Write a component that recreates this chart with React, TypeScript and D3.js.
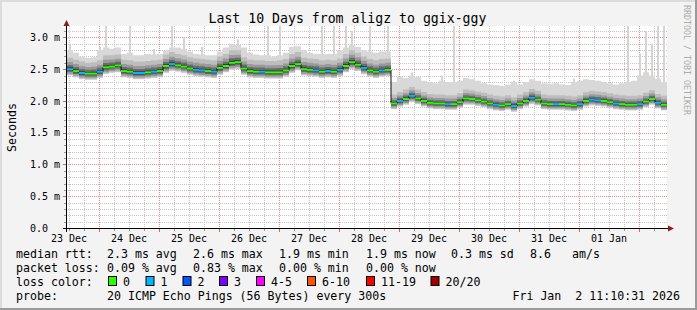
import React from "react";
import * as d3 from "d3";

// ---------- data ----------
const END_MS = Date.UTC(2026, 0, 2, 11, 10, 31);
const START_MS = END_MS - 10 * 86400000;
const STEP_MS = 2.4 * 3600 * 1000;

// median rtt (ms), one value per 2.4 h
const median = [
  2.50, 2.47, 2.44, 2.43, 2.43, 2.46, 2.53, 2.54, 2.56, 2.47,
  2.46, 2.44, 2.44, 2.45, 2.46, 2.47, 2.55, 2.58, 2.56, 2.54,
  2.51, 2.49, 2.48, 2.47, 2.46, 2.52, 2.55, 2.60, 2.61, 2.51,
  2.47, 2.46, 2.46, 2.45, 2.45, 2.45, 2.48, 2.55, 2.58, 2.50,
  2.49, 2.48, 2.46, 2.47, 2.46, 2.49, 2.55, 2.61, 2.57, 2.52,
  2.48, 2.46, 2.48, 2.49, 1.96, 2.00, 2.03, 2.08, 2.04, 2.00,
  1.97, 1.96, 1.96, 1.95, 1.95, 1.98, 2.04, 2.03, 2.01, 1.99,
  1.96, 1.94, 1.93, 1.95, 1.92, 1.96, 2.00, 2.05, 2.02, 1.96,
  1.95, 1.95, 1.95, 1.94, 1.93, 1.95, 2.00, 2.02, 2.01, 2.00,
  1.98, 1.96, 1.95, 1.94, 1.94, 1.95, 1.99, 2.03, 1.97, 1.94,
];

// lowest ping (ms)
const minRtt = [
  2.40, 2.37, 2.34, 2.33, 2.33, 2.36, 2.42, 2.44, 2.45, 2.37,
  2.36, 2.34, 2.34, 2.35, 2.36, 2.37, 2.44, 2.47, 2.46, 2.44,
  2.41, 2.39, 2.38, 2.37, 2.36, 2.41, 2.45, 2.49, 2.50, 2.41,
  2.37, 2.36, 2.36, 2.35, 2.35, 2.35, 2.38, 2.44, 2.48, 2.40,
  2.39, 2.38, 2.36, 2.37, 2.36, 2.39, 2.45, 2.50, 2.47, 2.42,
  2.38, 2.36, 2.38, 2.39, 1.87, 1.91, 1.94, 1.98, 1.95, 1.91,
  1.88, 1.87, 1.87, 1.86, 1.86, 1.89, 1.94, 1.94, 1.92, 1.90,
  1.87, 1.85, 1.84, 1.86, 1.83, 1.87, 1.91, 1.95, 1.93, 1.87,
  1.86, 1.86, 1.86, 1.85, 1.84, 1.86, 1.91, 1.93, 1.92, 1.91,
  1.89, 1.87, 1.86, 1.85, 1.85, 1.86, 1.90, 1.94, 1.88, 1.85,
];

// upper edge of the dense smoke (ms)
const highRtt = [
  2.68, 2.65, 2.62, 2.60, 2.61, 2.64, 2.72, 2.72, 2.73, 2.65,
  2.64, 2.62, 2.62, 2.63, 2.64, 2.65, 2.73, 2.77, 2.74, 2.72,
  2.69, 2.67, 2.66, 2.65, 2.64, 2.70, 2.74, 2.80, 2.80, 2.69,
  2.65, 2.64, 2.64, 2.63, 2.63, 2.64, 2.66, 2.74, 2.77, 2.68,
  2.67, 2.66, 2.64, 2.65, 2.64, 2.67, 2.74, 2.80, 2.76, 2.70,
  2.66, 2.64, 2.66, 2.67, 2.10, 2.14, 2.18, 2.22, 2.18, 2.14,
  2.11, 2.10, 2.10, 2.09, 2.09, 2.12, 2.18, 2.17, 2.15, 2.13,
  2.10, 2.08, 2.07, 2.09, 2.06, 2.10, 2.14, 2.19, 2.16, 2.10,
  2.09, 2.09, 2.09, 2.08, 2.07, 2.09, 2.14, 2.16, 2.15, 2.14,
  2.12, 2.10, 2.09, 2.08, 2.08, 2.09, 2.13, 2.17, 2.11, 2.08,
];

// upper edge of the faint smoke (ms)
const upperRtt = [
  2.80, 2.76, 2.70, 2.68, 2.69, 2.80, 2.84, 2.82, 2.84, 2.74,
  2.76, 2.72, 2.72, 2.74, 2.73, 2.74, 2.80, 2.84, 2.84, 2.82,
  2.78, 2.74, 2.73, 2.72, 2.72, 2.78, 2.84, 2.90, 2.88, 2.84,
  2.76, 2.73, 2.72, 2.72, 2.70, 2.72, 2.76, 2.85, 2.86, 2.80,
  2.76, 2.74, 2.74, 2.74, 2.74, 2.80, 2.84, 2.88, 2.85, 2.80,
  2.78, 2.76, 2.78, 2.78, 2.30, 2.38, 2.36, 2.40, 2.38, 2.32,
  2.30, 2.28, 2.32, 2.30, 2.30, 2.32, 2.36, 2.34, 2.32, 2.28,
  2.26, 2.25, 2.24, 2.26, 2.30, 2.26, 2.30, 2.34, 2.32, 2.28,
  2.27, 2.28, 2.26, 2.25, 2.30, 2.32, 2.34, 2.33, 2.32, 2.30,
  2.28, 2.26, 2.28, 2.30, 2.32, 2.40, 2.45, 2.40, 2.35, 2.30,
];

// single slow pings (ms), null where none stands out
const peakRtt: (number | null)[] = [
  2.90, null, null, null, null, 2.85, 3.20, null, null, null,
  3.20, null, null, null, 2.82, null, null, 3.20, null, 3.00,
  null, null, 2.85, null, null, null, null, null, 2.97, null,
  null, null, null, 3.20, null, 3.20, null, null, null, null,
  null, null, 3.20, null, 3.20, null, 3.20, 3.10, null, null,
  3.20, null, null, 3.20, null, null, null, 2.45, null, null,
  null, null, 2.40, null, 3.20, null, null, null, null, null,
  null, null, null, null, 2.32, null, null, null, null, null,
  null, null, null, null, 2.35, null, null, null, null, null,
  null, null, null, 3.20, null, 2.75, 3.10, 2.90, 3.20, 3.20,
];

// lost pings out of 20
const lostPings = [
  1, 0, 1, 0, 0, 1, 0, 0, 0, 0,
  0, 1, 1, 0, 1, 0, 0, 1, 0, 0,
  0, 1, 1, 0, 1, 0, 0, 0, 0, 0,
  0, 0, 1, 0, 0, 0, 0, 0, 0, 0,
  0, 1, 0, 1, 0, 1, 0, 0, 0, 1,
  0, 0, 1, 0, 0, 1, 0, 1, 0, 0,
  0, 0, 0, 1, 0, 0, 0, 0, 0, 0,
  0, 1, 0, 0, 1, 0, 0, 1, 0, 0,
  0, 1, 0, 0, 0, 1, 0, 1, 1, 0,
  0, 1, 0, 0, 0, 1, 0, 0, 1, 0,
];

const yMajorTicks = [0.5, 1.0, 1.5, 2.0, 2.5, 3.0];
const yTickLabels = ["0.0", "0.5 m", "1.0 m", "1.5 m", "2.0 m", "2.5 m", "3.0 m"];
const yTickValues = [0, 0.5, 1.0, 1.5, 2.0, 2.5, 3.0];
const dayLabels = ["23 Dec", "24 Dec", "25 Dec", "26 Dec", "27 Dec", "28 Dec", "29 Dec", "30 Dec", "31 Dec", "01 Jan"];
const lossBuckets = ["0", "1", "2", "3", "4-5", "6-10", "11-19", "20/20"];
const lossColors = ["#26ff00", "#00b8ff", "#0059ff", "#7e00ff", "#ff00ff", "#ff5500", "#ff0000", "#a10000"];

const legendRtt = [
  ["median rtt:", 16], ["2.3 ms avg", 107], ["2.6 ms max", 193], ["1.9 ms min", 279],
  ["1.9 ms now", 366], ["0.3 ms sd", 451], ["8.6", 530], ["am/s", 572],
] as [string, number][];
const legendLoss = [
  ["packet loss:", 16], ["0.09 % avg", 107], ["0.83 % max", 193], ["0.00 % min", 279], ["0.00 % now", 366],
] as [string, number][];
const legendBoxX = [108, 145.5, 182.5, 219, 256, 307, 366, 430.5];
const stampText = "Fri Jan\u00a0\u00a02 11:10:31 2026";

// ---------- layout ----------
const W = 697, H = 310;
const PL = 67, PR = 667, PT = 26, PB = 228;
const MONO = "DejaVu Sans Mono";
const GRID = "#c4c4c4";
const MGRID = "#f08c8c";

function bucketOf(n: number) {
  if (n <= 3) return n;
  if (n <= 5) return 4;
  if (n <= 10) return 5;
  if (n <= 19) return 6;
  return 7;
}

// dotted grid lines built from 1x1 pixel squares
function hDots(rows: number[], x0: number, x1: number) {
  let s = "";
  for (const r of rows) for (let xx = x0; xx < x1; xx += 2) s += `M${xx},${r}h1v1h-1z`;
  return s;
}
function vDots(cols: number[], y0: number, y1: number) {
  let s = "";
  for (const cc of cols) for (let yy = y0; yy < y1; yy += 2) s += `M${cc},${yy}h1v1h-1z`;
  return s;
}

export default function App() {
  const x = d3.scaleUtc().domain([new Date(START_MS), new Date(END_MS)]).range([PL, PR]);
  const y = d3.scaleLinear().domain([0, 3.18]).range([PB, PT]);
  const N = median.length;
  const tAt = (i: number) => new Date(START_MS + i * STEP_MS);
  const idx = d3.range(N + 1);
  const c = (i: number) => Math.min(i, N - 1);

  const band = (lo: (i: number) => number, hi: (i: number) => number) =>
    d3.area<number>()
      .x((i) => x(tAt(i)))
      .y0((i) => y(lo(c(i))))
      .y1((i) => y(hi(c(i))))
      .curve(d3.curveStepAfter)(idx) || "";

  const low = (f: number) => (i: number) => median[i] - f * (median[i] - minRtt[i]);
  const high = (f: number) => (i: number) => median[i] + f * (highRtt[i] - median[i]);

  const layers = [
    { d: band(low(1), (i) => upperRtt[i]), fill: "#d8d8d8" },
    { d: band(low(0.9), high(1)), fill: "#bdbdbd" },
    { d: band(low(0.7), high(0.62)), fill: "#9a9a9a" },
    { d: band(low(0.45), high(0.36)), fill: "#6c6c6c" },
    { d: band(low(0.22), high(0.16)), fill: "#383838" },
  ];

  const medianLine = d3.line<number>()
    .x((i) => x(tAt(i)))
    .y((i) => y(median[c(i)]))
    .curve(d3.curveStepAfter)(idx) || "";

  const minorY = d3.range(1, 32).map((k) => k / 10).filter((v) => Math.round(v * 10) % 5 !== 0);
  const hours = x.ticks(d3.utcHour.every(6) as any).filter((t) => t.getUTCHours() !== 0);
  const days = x.ticks(d3.utcDay.every(1) as any);
  const noons = d3.range(dayLabels.length).map((k) => new Date(Date.UTC(2025, 11, 23 + k, 12)));
  const px = (v: number) => Math.round(v) + 0.5;
  const pi = (v: number) => Math.round(v);

  const minorRows = minorY.map((v) => pi(y(v)));
  const minorCols = hours.map((t) => pi(x(t)));
  const majorRows = yMajorTicks.map((v) => pi(y(v)));
  const majorCols = days.map((t) => pi(x(t)));

  return (
    <svg width={W} height={H} style={{ position: "absolute", left: 0, top: 0, display: "block" }}
      xmlns="http://www.w3.org/2000/svg">
      <defs>
        <clipPath id="plot"><rect x={PL} y={PT} width={PR - PL} height={PB - PT} /></clipPath>
      </defs>
      <rect x={0} y={0} width={W} height={H} fill="#f3f3f3" />
      {/* 3D frame */}
      <rect x={0} y={0} width={W} height={2} fill="#dcdcdc" />
      <rect x={0} y={0} width={2} height={H} fill="#dcdcdc" />
      <rect x={0} y={H - 2} width={W} height={2} fill="#9a9a9a" />
      <rect x={W - 2} y={0} width={2} height={H} fill="#9a9a9a" />

      <rect x={PL} y={PT} width={PR - PL} height={PB - PT} fill="#ffffff" />

      {/* grid (dotted) */}
      <g shapeRendering="crispEdges">
        <path d={hDots(minorRows, PL + 1, PR) + vDots(minorCols, PT, PB)} fill={GRID} />
        <path d={hDots(majorRows, PL + 1, PR) + vDots(majorCols, PT, PB)} fill={MGRID} />
      </g>

      {/* smoke and median */}
      <g clipPath="url(#plot)">
        {peakRtt.map((p, i) =>
          p == null ? null : (
            <rect key={"pk" + i} x={Math.round(x(tAt(i + 0.5))) - 1} width={2}
              y={y(p)} height={Math.max(0, y(median[i]) - y(p))} fill="#d4d4d4" />
          )
        )}
        {layers.map((l, k) => <path key={"l" + k} d={l.d} fill={l.fill} />)}
        <path d={medianLine} fill="none" stroke="#111" strokeWidth={1} />
        {median.map((m, i) => (
          <line key={"seg" + i} x1={x(tAt(i))} x2={x(tAt(i + 1))} y1={y(m)} y2={y(m)}
            stroke={lossColors[bucketOf(lostPings[i])]} strokeWidth={2} />
        ))}
      </g>

      {/* ticks */}
      <g shapeRendering="crispEdges">
        {minorY.map((v) => (
          <line key={"ty" + v} x1={64} x2={67} y1={px(y(v))} y2={px(y(v))} stroke="#9a9a9a" />
        ))}
        {yMajorTicks.map((v) => (
          <line key={"tY" + v} x1={63} x2={67} y1={px(y(v))} y2={px(y(v))} stroke="#e06060" />
        ))}
        {hours.map((t) => (
          <line key={"tx" + +t} x1={px(x(t))} x2={px(x(t))} y1={228} y2={231} stroke="#9a9a9a" />
        ))}
        {days.map((t) => (
          <line key={"tX" + +t} x1={px(x(t))} x2={px(x(t))} y1={228} y2={232} stroke="#e06060" />
        ))}
        {/* axes */}
        <line x1={63} x2={669} y1={228.5} y2={228.5} stroke="#000" />
        <line x1={66.5} x2={66.5} y1={232} y2={25} stroke="#000" />
      </g>
      <polygon points="63.5,26 69.5,26 66.5,20" fill="#8a1c1c" />
      <polygon points="668,225.5 668,231.5 674,228.5" fill="#8a1c1c" />

      {/* axis labels */}
      <g fontFamily={MONO} fontSize={10} fill="#000">
        {yTickValues.map((v, k) => (
          <text key={"yl" + k} x={30} y={y(v)} dy="0.36em">{yTickLabels[k]}</text>
        ))}
        {noons.map((t, k) => (
          <text key={"xl" + k} x={x(t)} y={241.5} textAnchor="middle">{dayLabels[k]}</text>
        ))}
      </g>

      {/* title */}
      <text x={347.5} y={23} textAnchor="middle" fontFamily={MONO} fontSize={13.2} fill="#000">
        Last 10 Days from aligz to ggix-ggy
      </text>
      <text transform="translate(15.5,127.5) rotate(-90)" textAnchor="middle" fontFamily={MONO} fontSize={11.6} fill="#000">
        Seconds
      </text>
      <text transform="translate(684,5) rotate(90)" fontFamily={MONO} fontSize={8.3} fill="#ababab">
        RRDTOOL / TOBI OETIKER
      </text>

      {/* legend */}
      <g fontFamily={MONO} fontSize={11.6} fill="#000">
        {legendRtt.map(([s, lx], k) => <text key={"r" + k} x={lx} y={258}>{s}</text>)}
        {legendLoss.map(([s, lx], k) => <text key={"p" + k} x={lx} y={272}>{s}</text>)}
        <text x={16} y={286}>loss color:</text>
        {lossBuckets.map((b, k) => (
          <g key={"lb" + k}>
            <rect x={legendBoxX[k] + 0.5} y={276.5} width={8} height={9} fill={lossColors[k]} stroke="#000" strokeWidth={1} />
            <text x={legendBoxX[k] + 15} y={286}>{b}</text>
          </g>
        ))}
        <text x={16} y={300}>probe:</text>
        <text x={107} y={300}>20 ICMP Echo Pings (56 Bytes) every 300s</text>
        <text x={680} y={300} textAnchor="end">{stampText}</text>
      </g>
    </svg>
  );
}
